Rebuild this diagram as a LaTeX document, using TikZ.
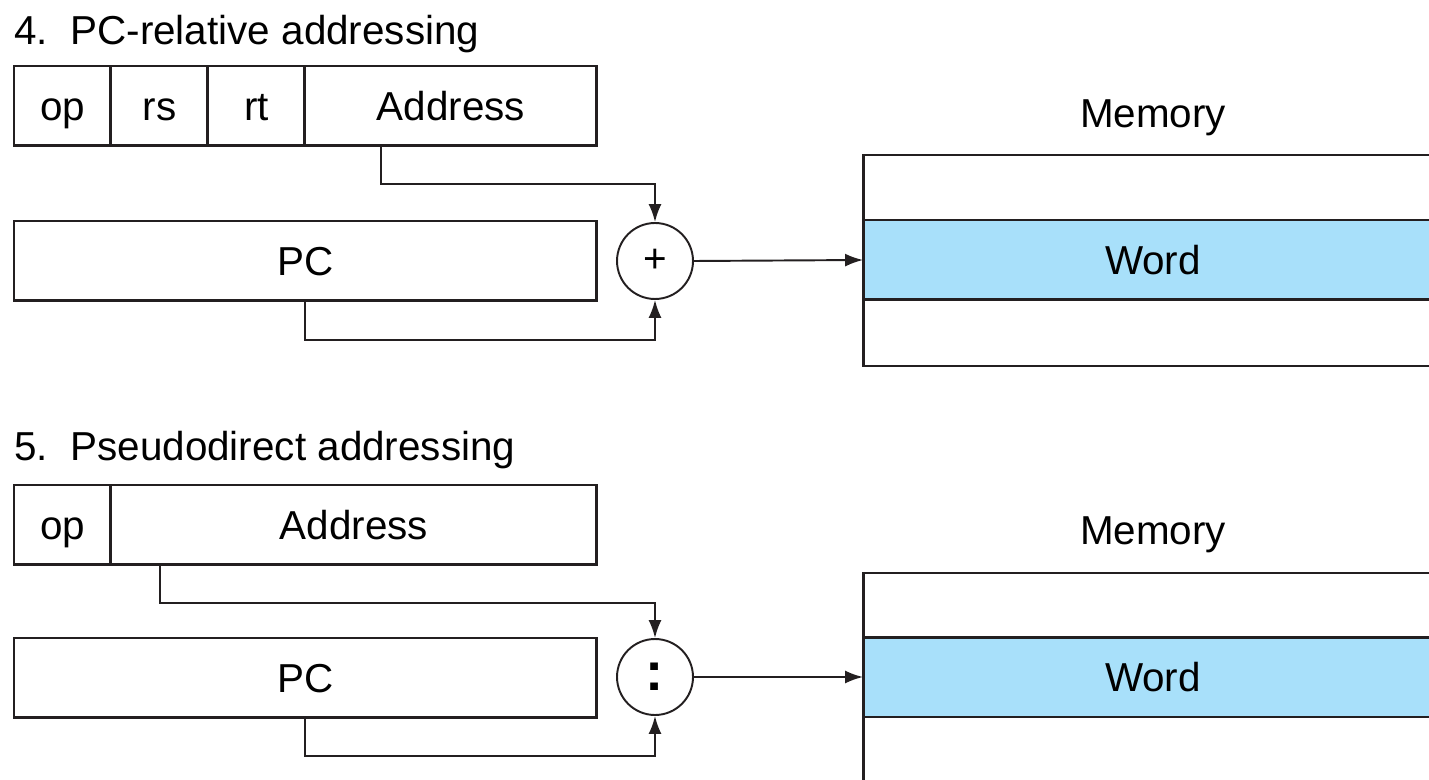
\documentclass[tikz,border=0pt]{standalone}
\usepackage{fontspec}
\setmainfont{Liberation Sans}
\usetikzlibrary{arrows.meta,positioning}
\definecolor{ink}{HTML}{231F20}
\definecolor{wordblue}{RGB}{168,224,250}

\begin{document}
\begin{tikzpicture}[x=0.02cm, y=-0.02cm, >={Latex[length=3.6mm, width=2.6mm]},
    field/.style={draw=ink, line width=1.7pt, outer sep=0pt, inner sep=0pt,
        minimum height=1.6cm, text height=16.5pt, text depth=0pt,
        font=\fontsize{23}{26}\selectfont},
    sumop/.style={draw=ink, circle, line width=1.1pt, minimum size=1.52cm, inner sep=0pt,
        font=\fontsize{23}{26}\selectfont},
    link/.style={->, draw=ink, line width=1.1pt},
    memline/.style={draw=ink, line width=1.7pt},
    cell/.style={fill=wordblue, outer sep=0pt, inner sep=0pt, minimum width=11.6cm,
        minimum height=1.6cm, text height=16.5pt, text depth=0pt,
        font=\fontsize{23}{26}\selectfont},
    heading/.style={anchor=base west, inner sep=0pt, font=\fontsize{23}{28}\selectfont},
    memlabel/.style={inner sep=0pt, font=\fontsize{23}{26}\selectfont}]
    \useasboundingbox (0,0) rectangle (1429,780);

    % 4. PC-relative
    \node[heading] (title4) at (14,45) {4.\ \ PC-relative addressing};
    \node[field, minimum width=1.94cm, anchor=north west] (op4) at (14,66) {op};
    \node[field, minimum width=1.94cm, right=0pt of op4] (rs4) {rs};
    \node[field, minimum width=1.94cm, right=0pt of rs4] (rt4) {rt};
    \node[field, minimum width=5.84cm, right=0pt of rt4] (addr4) {Address};
    \node[field, minimum width=11.66cm, anchor=north west] (pc4) at (14,221) {PC};
    \node[sumop] (sum4) at (655,261) {+};
    \node[memlabel] (mem4) at (1153,118) {Memory};
    \node[cell] (word4) at (1153,260) {Word};
    \draw[memline] (1443,155) -- (863,155) -- (863,366) -- (1443,366);
    \draw[memline] (word4.north west) -- (word4.north east);
    \draw[memline] (word4.south west) -- (word4.south east);

    \draw[link] (addr4.south west) ++(76,0) -- ++(0,38) -| (sum4.north);
    \draw[link] (pc4.south) -- ++(0,39) -| (sum4.south);
    \draw[link] (sum4.east) -- (word4.west);

    % 5. Pseudodirect
    \node[heading] (title5) at (14,460) {5.\ \ Pseudodirect addressing};
    \node[field, minimum width=1.94cm, anchor=north west] (op5) at (14,485) {op};
    \node[field, minimum width=9.72cm, right=0pt of op5] (addr5) {Address};
    \node[field, minimum width=11.66cm, anchor=north west] (pc5) at (14,638) {PC};
    \node[sumop, font=\fontsize{31}{31}\selectfont\bfseries] (cat5) at (655,677) {:};
    \node[memlabel] (mem5) at (1153,535) {Memory};
    \node[cell] (word5) at (1153,677) {Word};
    \draw[memline] (1443,573) -- (863,573) -- (863,790);
    \draw[memline] (word5.north west) -- (word5.north east);
    \draw[memline] (word5.south west) -- (word5.south east);

    \draw[link] (addr5.south west) ++(49,0) -- ++(0,38) -| (cat5.north);
    \draw[link] (pc5.south) -- ++(0,38) -| (cat5.south);
    \draw[link] (cat5.east) -- (word5.west);
\end{tikzpicture}
\end{document}
